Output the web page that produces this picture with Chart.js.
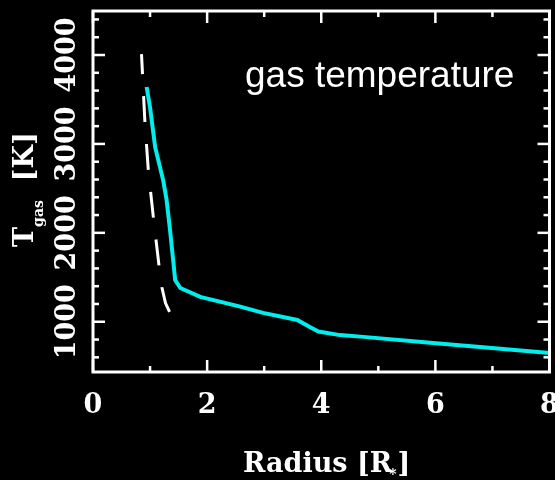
<!DOCTYPE html>
<html>
<head>
<meta charset="utf-8">
<script src="https://cdn.jsdelivr.net/npm/chart.js@4.4.1/dist/chart.umd.min.js"></script>
<style>
  html, body { margin: 0; padding: 0; background: #000; }
  #wrap { width: 555px; height: 480px; position: relative; }
</style>
</head>
<body>
<div id="wrap"><canvas id="chart" width="555" height="480"></canvas></div>
<script>
// gas temperature profile (cyan) vs radius
const gasRadius = [0.94, 1.00, 1.09, 1.23, 1.29, 1.35, 1.41, 1.44, 1.53, 1.88, 2.58, 2.98, 3.58, 3.80, 3.95, 4.33, 4.74, 5.91, 7.09, 8.0];
const gasTemp   = [3640, 3410, 2960, 2590, 2370, 2030, 1660, 1470, 1380, 1280, 1170, 1100, 1020, 940, 890, 850, 830, 765, 700, 650];

// dashed white comparison curve
const dashRadius = [0.85, 0.91, 0.97, 1.06, 1.16, 1.21, 1.27, 1.35];
const dashTemp   = [4010, 3240, 2700, 2160, 1615, 1380, 1210, 1100];

const xTickLabels = [0, 2, 4, 6, 8];
const yTickLabels = [1000, 2000, 3000, 4000];

const toPoints = (xs, ys) => xs.map((v, i) => ({ x: v, y: ys[i] }));

const serif = '"DejaVu Serif", "Liberation Serif", serif';

// box with inward ticks on all four sides, labels and axis titles
const framePlugin = {
  id: 'frame',
  afterDraw(chart) {
    const { ctx, chartArea: a, scales: { x, y } } = chart;
    const seg = (x1, y1, x2, y2) => { ctx.beginPath(); ctx.moveTo(x1, y1); ctx.lineTo(x2, y2); ctx.stroke(); };
    ctx.save();
    ctx.strokeStyle = '#fff';
    ctx.fillStyle = '#fff';
    ctx.lineWidth = 3;
    ctx.strokeRect(a.left, a.top, a.right - a.left, a.bottom - a.top);

    ctx.lineWidth = 2.5;
    for (let v = 0; v <= 8; v++) {
      const px = x.getPixelForValue(v);
      const len = xTickLabels.includes(v) ? 12 : 6;
      seg(px, a.bottom, px, a.bottom - len);
      seg(px, a.top, px, a.top + len);
    }
    for (let v = 600; v <= 4400; v += 200) {
      const py = y.getPixelForValue(v);
      const len = yTickLabels.includes(v) ? 12 : 6;
      seg(a.left, py, a.left + len, py);
      seg(a.right, py, a.right - len, py);
    }

    // tick labels
    ctx.font = 'bold 27px ' + serif;
    ctx.textAlign = 'center';
    ctx.textBaseline = 'alphabetic';
    xTickLabels.forEach(v => ctx.fillText(String(v), x.getPixelForValue(v), 413));
    yTickLabels.forEach(v => {
      ctx.save();
      ctx.translate(75, y.getPixelForValue(v));
      ctx.rotate(-Math.PI / 2);
      ctx.fillText(String(v), 0, 0);
      ctx.restore();
    });

    // x title: Radius [R*]
    ctx.textAlign = 'left';
    let cx = 243;
    const base = 472;
    ctx.font = 'bold 27px ' + serif;
    ctx.fillText('Radius [R', cx, base);
    cx += ctx.measureText('Radius [R').width;
    ctx.font = 'bold 14px ' + serif;
    ctx.fillText('*', cx - 3, base + 7);
    cx += ctx.measureText('*').width - 2;
    ctx.font = 'bold 27px ' + serif;
    ctx.fillText(']', cx, base);

    // y title: T_gas [K], rotated
    ctx.save();
    ctx.translate(33, 247);
    ctx.rotate(-Math.PI / 2);
    ctx.font = 'bold 27px ' + serif;
    ctx.fillText('T', 0, 0);
    let ty = ctx.measureText('T').width;
    ctx.font = 'bold 14px ' + serif;
    ctx.fillText('gas', ty, 10);
    ty += ctx.measureText('gas').width + 19;
    ctx.font = 'bold 27px ' + serif;
    ctx.fillText('[K]', ty, 0);
    ctx.restore();

    // annotation
    ctx.font = '37px "Liberation Sans", Arial, sans-serif';
    ctx.fillText('gas temperature', 245, 87);
    ctx.restore();
  }
};

new Chart(document.getElementById('chart'), {
  type: 'scatter',
  data: {
    datasets: [
      {
        label: 'dashed',
        data: toPoints(dashRadius, dashTemp),
        showLine: true,
        borderColor: '#ffffff',
        borderWidth: 3,
        borderDash: [26, 22],
        borderDashOffset: 6,
        pointRadius: 0,
        tension: 0
      },
      {
        label: 'gas temperature',
        data: toPoints(gasRadius, gasTemp),
        showLine: true,
        borderColor: 'rgb(0, 238, 238)',
        borderWidth: 4,
        pointRadius: 0,
        tension: 0
      }
    ]
  },
  options: {
    responsive: false,
    animation: false,
    layout: { padding: { left: 93, top: 11, right: 5.5, bottom: 108 } },
    plugins: { legend: { display: false }, tooltip: { enabled: false } },
    scales: {
      x: { type: 'linear', min: 0, max: 8, display: false },
      y: { type: 'linear', min: 435, max: 4495, display: false }
    }
  },
  plugins: [framePlugin]
});
</script>
</body>
</html>
